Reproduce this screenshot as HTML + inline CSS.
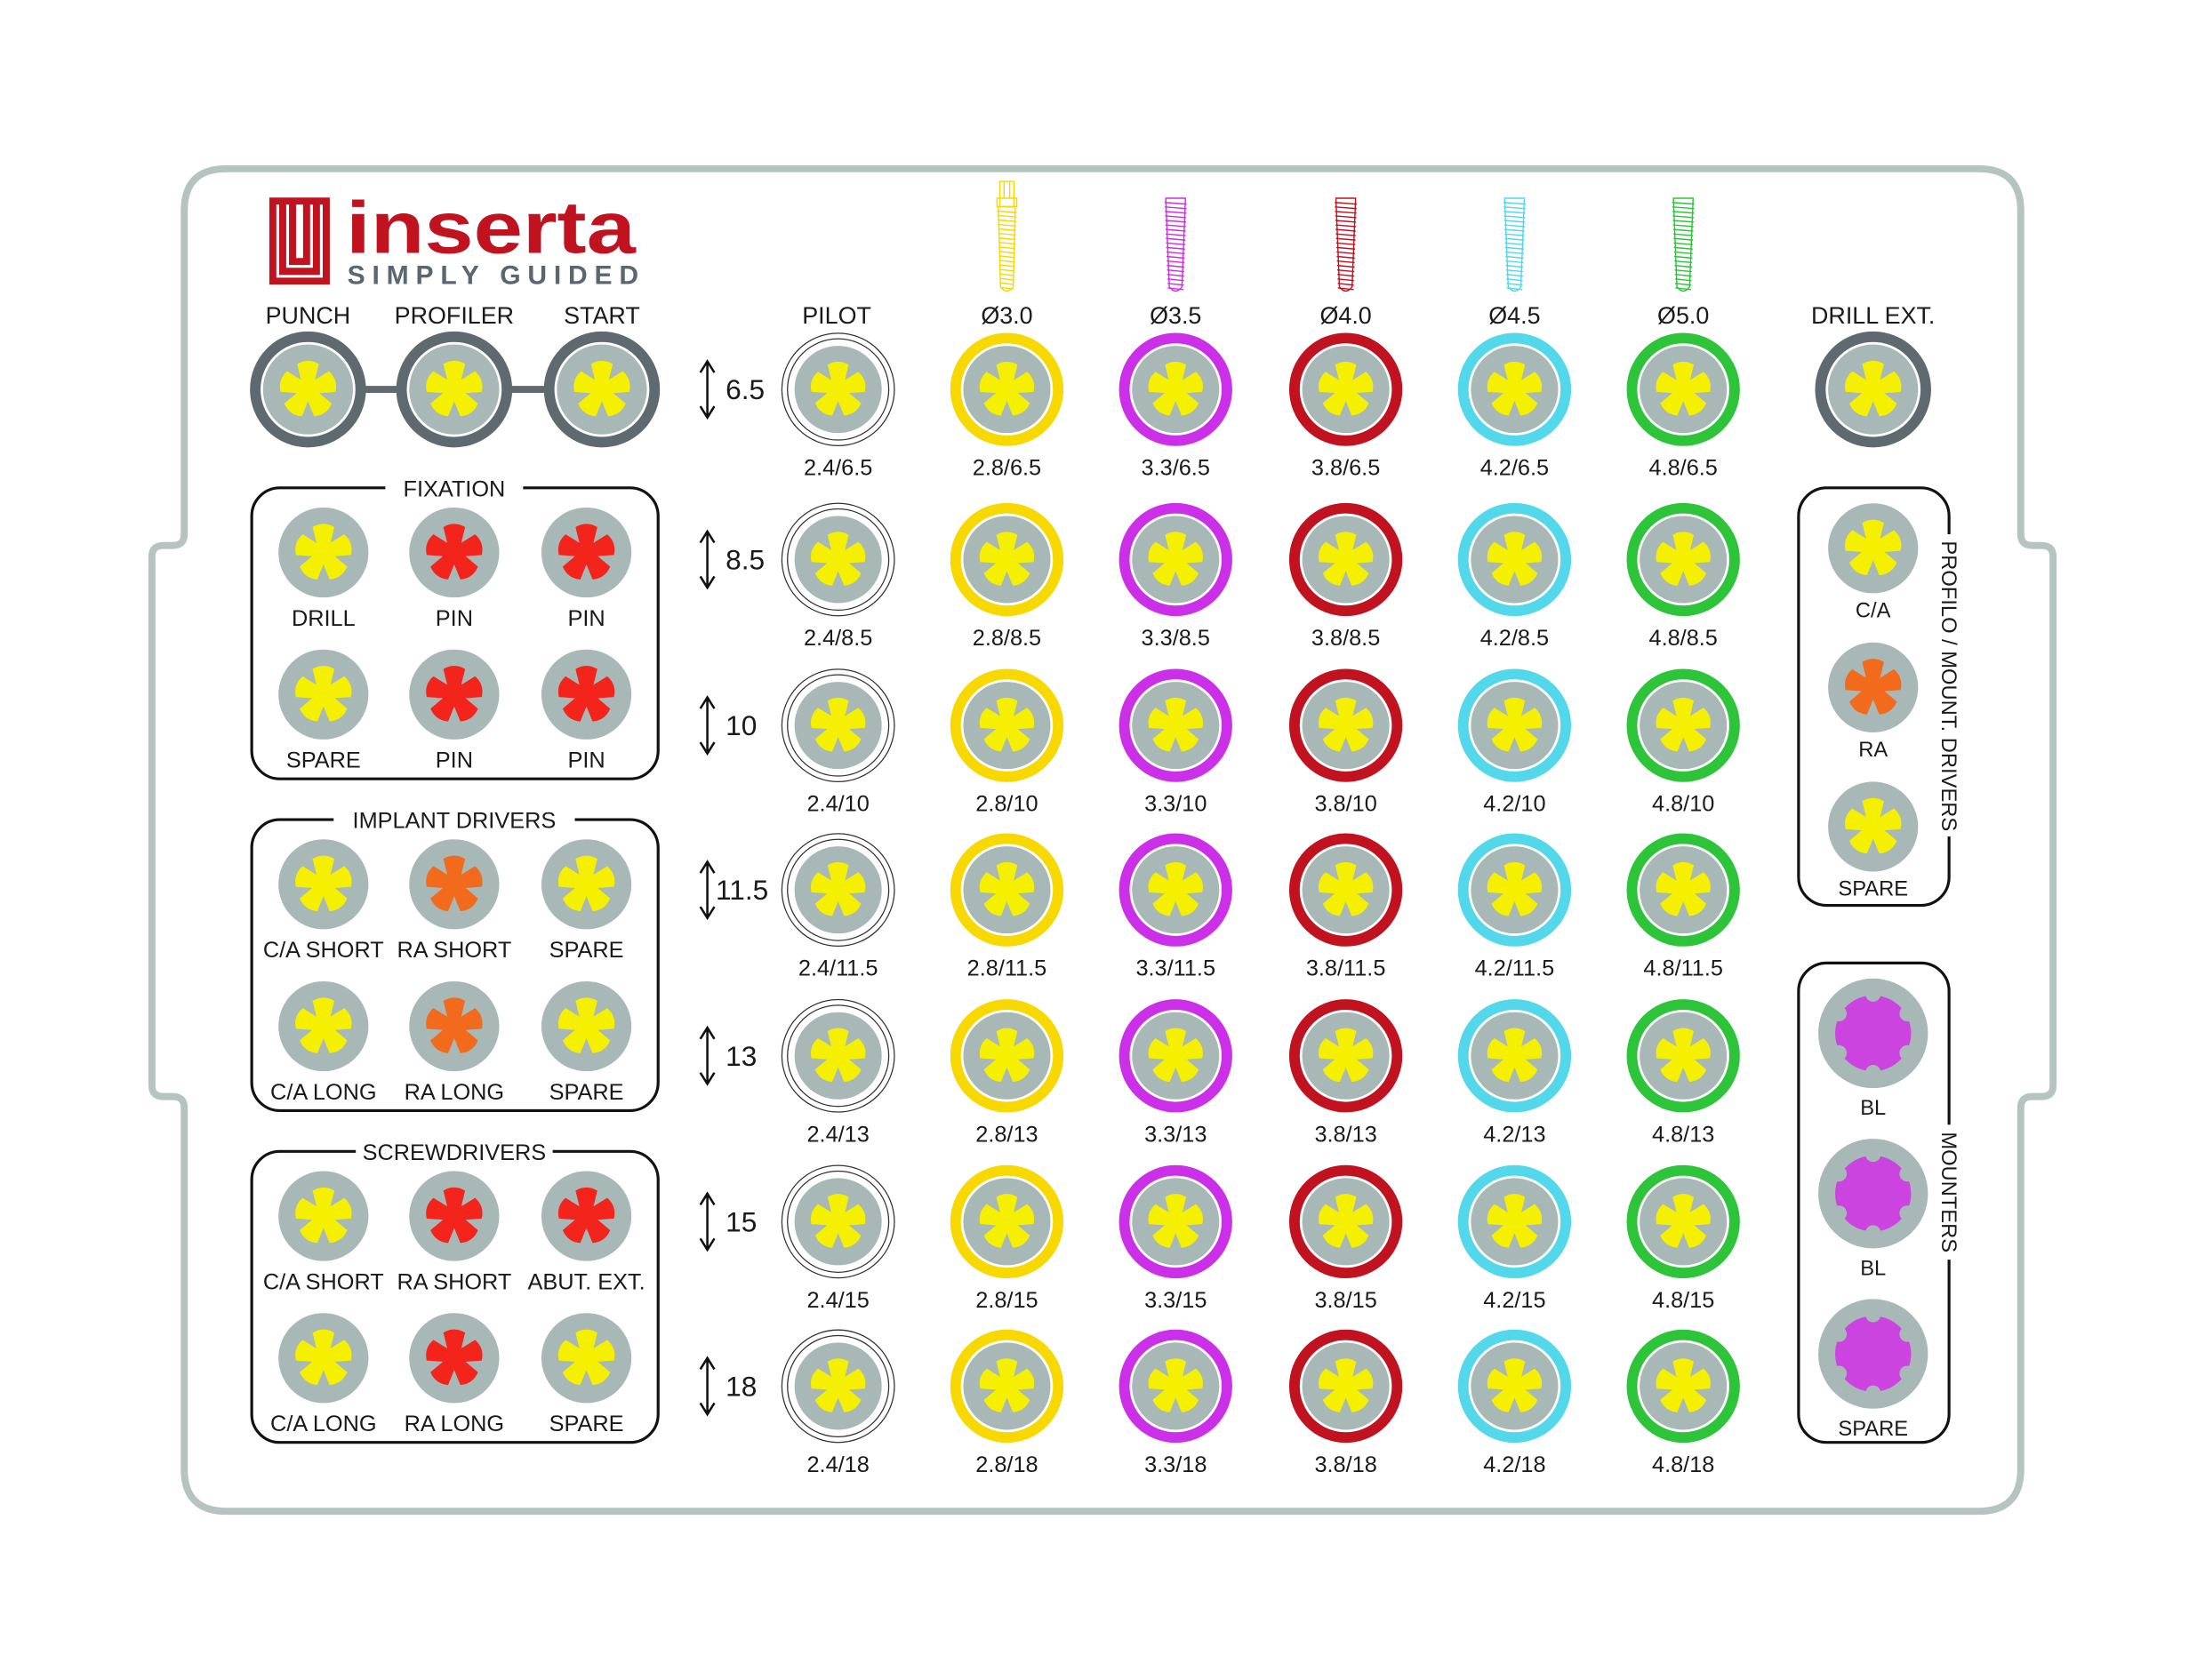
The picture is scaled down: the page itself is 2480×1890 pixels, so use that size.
<!DOCTYPE html>
<html><head><meta charset="utf-8"><style>
html,body{margin:0;padding:0;background:#fff}
svg{display:block}
text{font-family:"Liberation Sans",sans-serif;fill:#1a1a1a}
</style></head><body>
<svg id="s" width="2480" height="1890" viewBox="0 0 1568 1195" xmlns="http://www.w3.org/2000/svg">
<defs>
<g id="ast"><path d="M-3.2,0 L-7.5,-17.5 Q0,-22 7.5,-17.5 L3.2,0 Z"/><path d="M-3.2,0 L-7.5,-17.5 Q0,-22 7.5,-17.5 L3.2,0 Z" transform="rotate(72)"/><path d="M-3.2,0 L-7.5,-17.5 Q0,-22 7.5,-17.5 L3.2,0 Z" transform="rotate(144)"/><path d="M-3.2,0 L-7.5,-17.5 Q0,-22 7.5,-17.5 L3.2,0 Z" transform="rotate(216)"/><path d="M-3.2,0 L-7.5,-17.5 Q0,-22 7.5,-17.5 L3.2,0 Z" transform="rotate(288)"/><circle r="5.5"/></g>
</defs>
<path d="M161,120 H1407 Q1437,120 1437,150 V380 Q1437,388 1445,388 H1452 Q1460,388 1460,396 V772 Q1460,780 1452,780 H1445 Q1437,780 1437,788 V1045 Q1437,1075 1407,1075 H161 Q131,1075 131,1045 V788 Q131,780 123,780 H116 Q108,780 108,772 V396 Q108,388 116,388 H123 Q131,388 131,380 V150 Q131,120 161,120 Z" fill="none" stroke="#b5c3c1" stroke-width="5"/>
<g>
<path d="M194,143 H232 V200 H194 Z M201,143 V193 H225 V143 M208,143 V186 H218 V143" fill="none" stroke="#c0121f" stroke-width="5"/>
<text x="246" y="180" font-size="52" font-weight="bold" style="fill:#c0121f" textLength="206" lengthAdjust="spacingAndGlyphs">inserta</text>
<text x="247" y="202" font-size="19" font-weight="bold" style="fill:#5a6670" textLength="207" lengthAdjust="spacing">SIMPLY GUIDED</text>
</g>
<g id="dyn"></g>
</svg>
<script>
const NS='http://www.w3.org/2000/svg';
const dyn=document.getElementById('dyn');
const colX=[716,836,957,1077,1197];
const colColors=['#f7d800','#cc2fe8','#c1121f','#52d8ea','#2dc43a'];
const colHeaders=['Ø3.0','Ø3.5','Ø4.0','Ø4.5','Ø5.0'];
const colDiam=['2.8','3.3','3.8','4.2','4.8'];
const rowY=[277,398,516,633,751,869,986];
const rowLen=['6.5','8.5','10','11.5','13','15','18'];
function el(t,a,p){const e=document.createElementNS(NS,t);for(const k in a)e.setAttribute(k,a[k]);(p||dyn).appendChild(e);return e;}
function txt(x,y,s,size,p,anchor){const e=el('text',{x:x,y:y,'font-size':size||16,'text-anchor':anchor||'middle'},p);e.textContent=s;return e;}
function socket(x,y,r,astCol,ring,name){
  const g=el('g',{});
  
  
  if(ring==='pilot'){el('circle',{cx:x,cy:y,r:40,fill:'#fff',stroke:'#333','stroke-width':0.8},g);el('circle',{cx:x,cy:y,r:36,fill:'none',stroke:'#333','stroke-width':0.8},g);}
  else if(ring){el('circle',{cx:x,cy:y,r:r+5.5,fill:'none',stroke:ring,'stroke-width':7.5},g);}
  el('circle',{cx:x,cy:y,r:r,fill:'#a8b8b6'},g);
  el('use',{href:'#ast',transform:`translate(${x},${y}) scale(${r/31})`,fill:astCol},g);
  return g;
}
txt(595,230,'PILOT',17);
txt(1332,230,'DRILL EXT.',17);
colX.forEach((x,i)=>{
  const t=txt(x,230,colHeaders[i],17);
  
  
  const g=el('g',{fill:'none',stroke:colColors[i],'stroke-width':0.9});
  
  
  const top=i===0?147:141, bot=208;
  const hw=i===0?6:7;
  el('path',{d:`M${x-hw},${top} H${x+hw} L${x+4.5},${bot-4} Q${x},${bot+2} ${x-4.5},${bot-4} Z`},g);
  for(let yy=top+3;yy<bot-3;yy+=3.2){const w=hw-(yy-top)/(bot-top)*2.5;el('line',{x1:x-w-1,y1:yy,x2:x+w+1,y2:yy+1.2},g);}
  if(i===0){el('path',{d:`M${x-5},${top} V129 H${x+5} V${top} M${x-7},${top} H${x+7} V141 H${x-7} Z M${x-2},129 V141 M${x+2},129 V141`},g);}
});
rowY.forEach((y,r)=>{
  const g=el('g',{});
  
  
  el('path',{d:`M503,${y-19} V${y+19} M498,${y-12} L503,${y-20} L508,${y-12} M498,${y+12} L503,${y+20} L508,${y+12}`,fill:'none',stroke:'#111','stroke-width':1.6},g);
  txt(rowLen[r].length>3?509:516,y+7,rowLen[r],20,g,'start');
  socket(596,y,31,'#f4f000','pilot','pilot-socket');
  const l=txt(596,y+61,'2.4/'+rowLen[r],16);
  
  
  colX.forEach((x,i)=>{
    socket(x,y,31,'#f4f000',colColors[i],'drill-socket');
    const t=txt(x,y+61,colDiam[i]+'/'+rowLen[r],16);
    
    
  });
});
socket(1332,277,32,'#f4f000','#5f6a70','drill-ext-socket');
const topX=[219,323,428], topNames=['PUNCH','PROFILER','START'];
el('line',{x1:219,y1:277,x2:428,y2:277,stroke:'#5f6a70','stroke-width':5});
topX.forEach((x,i)=>{el('circle',{cx:x,cy:277,r:39,fill:'#fff'});socket(x,277,32,'#f4f000','#5f6a70','top-socket');txt(x,230,topNames[i],17);});
const boxY=[347,583,819];
const boxTitles=['FIXATION','IMPLANT DRIVERS','SCREWDRIVERS'];
const boxLabels=[['DRILL','PIN','PIN','SPARE','PIN','PIN'],['C/A SHORT','RA SHORT','SPARE','C/A LONG','RA LONG','SPARE'],['C/A SHORT','RA SHORT','ABUT. EXT.','C/A LONG','RA LONG','SPARE']];
const boxColors=[['y','r','r','y','r','r'],['y','o','y','y','o','y'],['y','r','r','y','r','y']];
const cmap={y:'#f4f000',r:'#f2241b',o:'#f26a1b'};
const bx=[230,323,417];
boxY.forEach((by,b)=>{
  const g=el('g',{});
  
  
  el('rect',{x:179,y:by,width:289,height:207,rx:20,fill:'none',stroke:'#111','stroke-width':2},g);
  const tw=boxTitles[b].length*10.5+14;
  el('rect',{x:323-tw/2,y:by-8,width:tw,height:16,fill:'#fff'},g);
  txt(323,by+6,boxTitles[b],16,g);
  for(let k=0;k<6;k++){
    const x=bx[k%3], y=by+46+Math.floor(k/3)*101;
    socket(x,y,32,cmap[boxColors[b][k]],null,'tool-socket');
    txt(x,y+52,boxLabels[b][k],16,g);
  }
});
el('rect',{x:1279,y:347,width:107,height:297,rx:20,fill:'none',stroke:'#111','stroke-width':2});
el('rect',{x:1378,y:380,width:16,height:215,fill:'#fff'});
const v1=txt(0,0,'PROFILO / MOUNT. DRIVERS',15);v1.setAttribute('transform','translate(1381,488) rotate(90)');
const pY=[390,489,588], pL=['C/A','RA','SPARE'], pC=['y','o','y'];
pY.forEach((y,i)=>{socket(1332,y,32,cmap[pC[i]],null,'driver-socket');txt(1332,y+49,pL[i],15);});
el('rect',{x:1279,y:685,width:107,height:341,rx:20,fill:'none',stroke:'#111','stroke-width':2});
el('rect',{x:1378,y:800,width:16,height:96,fill:'#fff'});
const v2=txt(0,0,'MOUNTERS',15);v2.setAttribute('transform','translate(1381,848) rotate(90)');
const mY=[735,849,963], mL=['BL','BL','SPARE'];
mY.forEach((y,i)=>{
  const g=el('g',{});
  
  
  el('circle',{cx:1332,cy:y,r:39,fill:'#a8b8b6'},g);
  el('circle',{cx:1332,cy:y,r:27,fill:'#cc44e0'},g);
  for(let k=0;k<6;k++){const a=(k*60-90)*Math.PI/180;el('circle',{cx:1332+28*Math.cos(a),cy:y+28*Math.sin(a),r:5.5,fill:'#a8b8b6'},g);}
  txt(1332,y+58,mL[i],15,g);
});
</script>
</body></html>
